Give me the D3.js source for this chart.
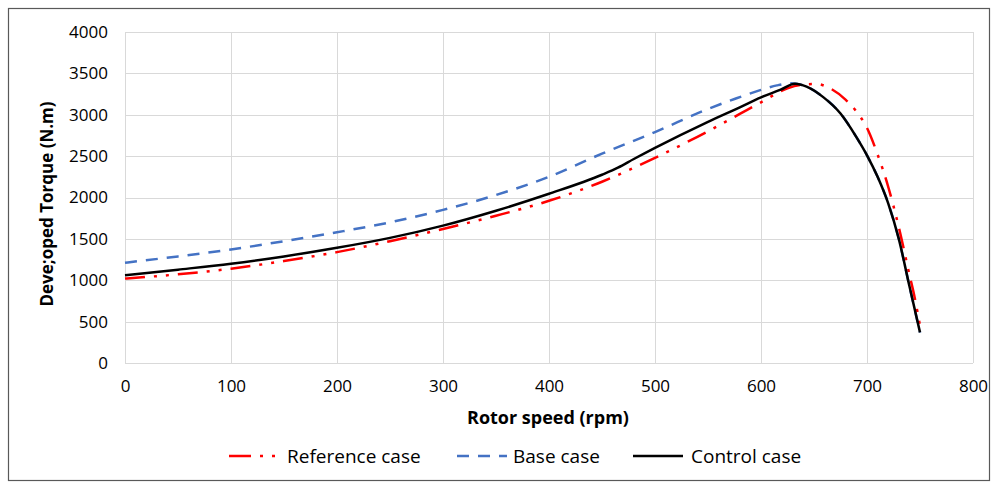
<!DOCTYPE html>
<html>
<head>
<meta charset="utf-8">
<script src="https://cdn.jsdelivr.net/npm/d3@7"></script>
<style>
  body { margin: 0; background: #fff; }
  svg { display: block; font-family: "Open Sans", Lato, sans-serif; }
</style>
</head>
<body>
<svg id="chart" width="998" height="483"></svg>
<script>
// Reference case (red dash-dot-dot)
const refSpeed = [0, 50, 100, 150, 200, 250, 300, 350, 400, 450, 500, 550, 580, 600, 625, 637, 652, 665, 680, 690, 700, 710, 720, 730, 740, 745, 750];
const refTorque = [1020, 1072, 1140, 1232, 1340, 1472, 1620, 1780, 1960, 2190, 2480, 2800, 3010, 3150, 3320, 3360, 3372, 3320, 3180, 3040, 2840, 2520, 2130, 1640, 1070, 790, 450];

// Base case (blue dashed), hidden under the control case after the peak
const baseSpeed = [0, 50, 100, 150, 200, 250, 300, 350, 400, 450, 500, 550, 575, 600, 615, 628, 643, 659, 675, 690, 700, 710, 720, 730, 740, 750];
const baseTorque = [1212, 1288, 1372, 1472, 1580, 1700, 1850, 2030, 2250, 2530, 2790, 3070, 3190, 3300, 3355, 3380, 3340, 3210, 3015, 2730, 2510, 2250, 1930, 1500, 930, 370];

// Control case (black solid)
const ctrlSpeed = [0, 50, 100, 150, 200, 250, 300, 350, 400, 450, 465, 480, 500, 550, 580, 600, 618, 632, 643, 659, 675, 690, 700, 710, 720, 730, 740, 750];
const ctrlTorque = [1060, 1128, 1200, 1288, 1392, 1512, 1660, 1840, 2045, 2275, 2360, 2465, 2600, 2915, 3090, 3210, 3300, 3375, 3340, 3210, 3015, 2730, 2510, 2250, 1930, 1500, 930, 370];

const xTicks = [0, 100, 200, 300, 400, 500, 600, 700, 800];
const yTicks = [0, 500, 1000, 1500, 2000, 2500, 3000, 3500, 4000];

const series = [
  { name: "Reference case", speed: refSpeed, torque: refTorque, color: "#ff0000", dash: "20,9,3,9,3,9" },
  { name: "Base case", speed: baseSpeed, torque: baseTorque, color: "#4472c4", dash: "12,9" },
  { name: "Control case", speed: ctrlSpeed, torque: ctrlTorque, color: "#000000", dash: null }
];

const svg = d3.select("#chart");

// outer frame
svg.append("rect")
  .attr("x", 8.5).attr("y", 8.5)
  .attr("width", 981).attr("height", 472)
  .attr("fill", "none")
  .attr("stroke", "#595959")
  .attr("stroke-width", 1.2);

const x = d3.scaleLinear().domain([0, 800]).range([125, 973]);
const y = d3.scaleLinear().domain([0, 4000]).range([363, 32]);

// gridlines
const grid = svg.append("g").attr("stroke", "#d9d9d9").attr("stroke-width", 1);
grid.selectAll("line.v").data(xTicks).enter().append("line")
  .attr("x1", d => Math.round(x(d)) + 0.5).attr("x2", d => Math.round(x(d)) + 0.5)
  .attr("y1", y(4000)).attr("y2", y(0));
grid.selectAll("line.h").data(yTicks).enter().append("line")
  .attr("x1", x(0)).attr("x2", x(800))
  .attr("y1", d => Math.round(y(d)) + 0.5).attr("y2", d => Math.round(y(d)) + 0.5);

// axes (labels only, Excel style)
const xAxis = svg.append("g")
  .attr("transform", `translate(0, ${y(0)})`)
  .call(d3.axisBottom(x).tickValues(xTicks).tickFormat(d3.format("d")).tickSize(0).tickPadding(17));
const yAxis = svg.append("g")
  .attr("transform", `translate(${x(0)}, 0)`)
  .call(d3.axisLeft(y).tickValues(yTicks).tickFormat(d3.format("d")).tickSize(0).tickPadding(17));
[xAxis, yAxis].forEach(a => {
  a.select(".domain").remove();
  a.selectAll("text")
    .attr("fill", "#000")
    .style("font-family", "'Open Sans', Lato, sans-serif")
    .style("font-size", "17px");
});

// curves
const line = d3.line()
  .x(d => x(d[0]))
  .y(d => y(d[1]))
  .curve(d3.curveMonotoneX);

// draw blue first so the black control case sits on top of it
[series[1], series[0], series[2]].forEach(s => {
  const pts = s.speed.map((v, i) => [v, s.torque[i]]);
  svg.append("path")
    .datum(pts)
    .attr("d", line)
    .attr("fill", "none")
    .attr("stroke", s.color)
    .attr("stroke-width", 2.5)
    .attr("stroke-dasharray", s.dash)
    .attr("stroke-linejoin", "round");
});

// axis titles
svg.append("text")
  .attr("x", 548).attr("y", 424)
  .attr("text-anchor", "middle")
  .style("font-size", "18px")
  .style("font-weight", "bold")
  .text("Rotor speed (rpm)");

svg.append("text")
  .attr("transform", "translate(53, 204) rotate(-90)")
  .attr("text-anchor", "middle")
  .style("font-size", "17px")
  .style("font-weight", "bold")
  .text("Deve;oped Torque (N.m)");

// legend
const legendX = [229, 457, 633];
const legend = svg.append("g").attr("transform", "translate(0, 456)");
series.forEach((s, i) => {
  const g = legend.append("g").attr("transform", `translate(${legendX[i]}, 0)`);
  g.append("line")
    .attr("x1", 0).attr("x2", 50)
    .attr("y1", 0).attr("y2", 0)
    .attr("stroke", s.color)
    .attr("stroke-width", 2.5)
    .attr("stroke-dasharray", i === 0 ? "22,9,3,9,3,9" : s.dash);
  g.append("text")
    .attr("x", i === 1 ? 56 : 58)
    .attr("y", 0)
    .attr("dy", "0.35em")
    .style("font-size", "19px")
    .text(s.name);
});
</script>
</body>
</html>
